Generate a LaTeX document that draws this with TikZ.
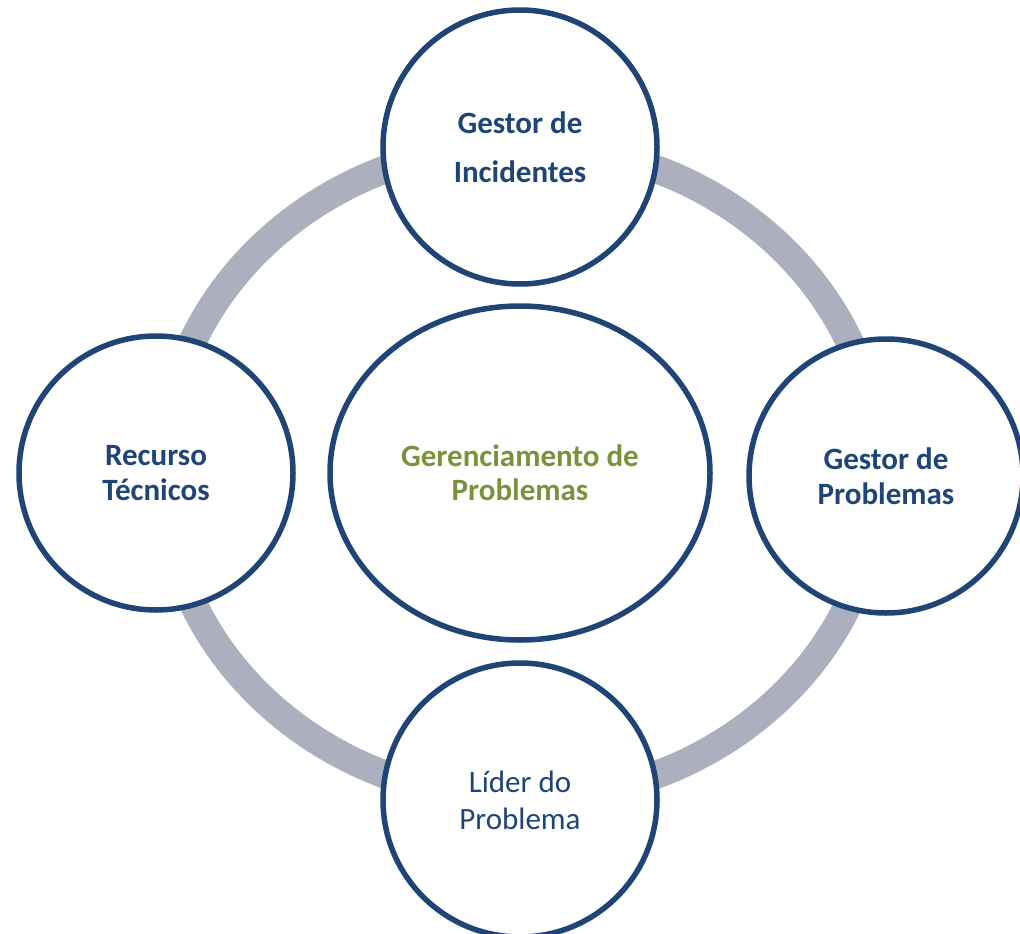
\documentclass[tikz,border=0pt]{standalone}
\usepackage{fontspec}
\setmainfont{Carlito}
\usetikzlibrary{shapes.geometric}

\definecolor{roleblue}{HTML}{1F4576}
\definecolor{ringgray}{HTML}{ACB0BE}
\definecolor{coregreen}{HTML}{77933C}

\tikzset{
  role/.style={circle, draw=roleblue, line width=5.5pt, fill=white,
    minimum size=274pt, inner sep=0pt, align=center, text=roleblue,
    font=\fontsize{31}{35}\selectfont\bfseries},
  core/.style={ellipse, draw=roleblue, line width=5.5pt, fill=white,
    minimum width=380pt, minimum height=334pt, inner sep=0pt,
    align=center, text=coregreen,
    font=\fontsize{31}{34}\selectfont\bfseries},
  ring/.style={draw=ringgray, line width=28pt}
}

\begin{document}
\begin{tikzpicture}[x=1pt, y=-1pt]
\useasboundingbox (0,0) rectangle (1020,934);
% gray ring behind the roles
\draw[ring] (521,472) ellipse [x radius=358, y radius=327];
\node[core] (gp) at (520,473) {Gerenciamento de\\Problemas};
\node[role] (gi) at (520,147) {Gestor de\\[14pt]Incidentes};
\node[role] (rt) at (156,473) {Recurso\\Técnicos};
\node[role] (gpr) at (886,476) {Gestor de\\Problemas};
\node[role, font=\fontsize{31}{37}\selectfont] (lp) at (520,800) {Líder do\\Problema};
\end{tikzpicture}
\end{document}
